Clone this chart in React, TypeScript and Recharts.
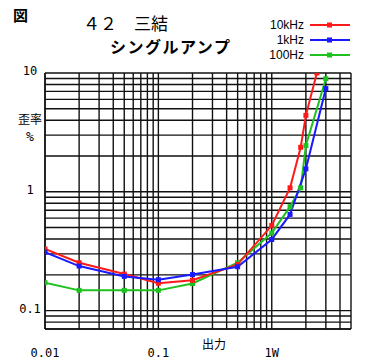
import React from "react";
import { LineChart, Line, XAxis, YAxis, CartesianGrid } from "recharts";

// 10kHz
const red = [
  { x: 0.01, y: 0.33 },
  { x: 0.02, y: 0.253 },
  { x: 0.05, y: 0.203 },
  { x: 0.1, y: 0.17 },
  { x: 0.2, y: 0.18 },
  { x: 0.5, y: 0.245 },
  { x: 1, y: 0.52 },
  { x: 1.45, y: 1.08 },
  { x: 1.8, y: 2.37 },
  { x: 2, y: 4.4 },
  { x: 2.5, y: 10 },
];

// 1kHz
const blue = [
  { x: 0.01, y: 0.31 },
  { x: 0.02, y: 0.237 },
  { x: 0.05, y: 0.194 },
  { x: 0.1, y: 0.182 },
  { x: 0.2, y: 0.201 },
  { x: 0.5, y: 0.234 },
  { x: 1, y: 0.397 },
  { x: 1.45, y: 0.645 },
  { x: 2, y: 1.56 },
  { x: 3, y: 7.4 },
];

// 100Hz
const green = [
  { x: 0.01, y: 0.172 },
  { x: 0.02, y: 0.148 },
  { x: 0.05, y: 0.148 },
  { x: 0.1, y: 0.148 },
  { x: 0.2, y: 0.169 },
  { x: 0.5, y: 0.253 },
  { x: 1, y: 0.45 },
  { x: 1.45, y: 0.75 },
  { x: 1.8, y: 1.08 },
  { x: 2, y: 2.45 },
  { x: 3, y: 8.95 },
];

const series = [
  { name: "10kHz", color: "#ff1a1a", data: red },
  { name: "1kHz", color: "#1a1aff", data: blue },
  { name: "100Hz", color: "#1ec21e", data: green },
];

const xTicks = [
  0.01, 0.02, 0.03, 0.04, 0.05, 0.06, 0.07, 0.08, 0.09,
  0.1, 0.2, 0.3, 0.4, 0.5, 0.6, 0.7, 0.8, 0.9,
  1, 2, 3, 4, 5,
];
const yTicks = [
  0.07, 0.08, 0.09,
  0.1, 0.2, 0.3, 0.4, 0.5, 0.6, 0.7, 0.8, 0.9,
  1, 2, 3, 4, 5, 6, 7, 8, 9, 10,
];
const xLabels: Record<string, string> = { "0.01": "0.01", "0.1": "0.1", "1": "1W" };
const yLabels: Record<string, string> = { "0.1": "0.1", "1": "1", "10": "10" };

const mono = "'DejaVu Sans Mono', monospace";
const jp = "'Noto Sans CJK JP', sans-serif";

const XTick = (props: any) => {
  const label = xLabels[String(props.payload.value)];
  if (!label) return null;
  return (
    <text x={props.x} y={props.y + 20} textAnchor="middle" fontSize={12} fontFamily={mono} fill="#000">
      {label}
    </text>
  );
};

const YTick = (props: any) => {
  const label = yLabels[String(props.payload.value)];
  if (!label) return null;
  return (
    <text x={30} y={props.y + 2} textAnchor="middle" fontSize={12} fontFamily={mono} fill="#000">
      {label}
    </text>
  );
};

const squareDot = (color: string) => (p: any) => (
  <rect key={p.index} x={p.cx - 2.5} y={p.cy - 2.5} width={5} height={5} fill={color} />
);

const LegendBox = () => (
  <div style={{ position: "absolute", left: 254, top: 17, fontFamily: "'Liberation Sans', Arial, sans-serif", fontSize: 12 }}>
    {series.map((s) => (
      <div key={s.name} style={{ display: "flex", alignItems: "center", height: 15 }}>
        <span style={{ width: 50, textAlign: "right", marginRight: 6 }}>{s.name}</span>
        <svg width={42} height={6}>
          <line x1={0} y1={3} x2={40} y2={3} stroke={s.color} strokeWidth={2} />
          <rect x={17} y={0.5} width={5} height={5} fill={s.color} />
        </svg>
      </div>
    ))}
  </div>
);

export default function App() {
  return (
    <div style={{ position: "absolute", left: 0, top: 0, width: 370, height: 360, background: "#fff" }}>
      <div style={{ position: "absolute", left: 13, top: 6, fontFamily: jp, fontSize: 15, fontWeight: 700, lineHeight: "18px" }}>
        図
      </div>
      <div style={{ position: "absolute", left: 83, top: 13, fontFamily: jp, fontSize: 17, lineHeight: "20px", whiteSpace: "nowrap" }}>
        ４２　三結
      </div>
      <div style={{ position: "absolute", left: 110, top: 36, fontFamily: jp, fontSize: 16, fontWeight: 700, lineHeight: "20px", letterSpacing: 1.5, whiteSpace: "nowrap" }}>
        シングルアンプ
      </div>
      <div style={{ position: "absolute", left: 17, top: 110, fontFamily: jp, fontSize: 12, lineHeight: "17px", textAlign: "center", width: 26 }}>
        歪率
        <br />
        <span style={{ fontFamily: mono, fontSize: 13 }}>%</span>
      </div>
      <div style={{ position: "absolute", left: 202, top: 336, fontFamily: jp, fontSize: 12, lineHeight: "16px" }}>
        出力
      </div>
      <LegendBox />
      <LineChart width={370} height={360} margin={{ top: 73, right: 19, left: 0, bottom: 0 }}>
        <CartesianGrid stroke="#111" strokeWidth={1.4} />
        <XAxis
          dataKey="x"
          type="number"
          scale="log"
          domain={[0.01, 5]}
          allowDataOverflow
          ticks={xTicks}
          interval={0}
          tick={<XTick />}
          tickLine={false}
          axisLine={{ stroke: "#111", strokeWidth: 1.4 }}
          height={31}
        />
        <YAxis
          type="number"
          scale="log"
          domain={[0.07, 10]}
          allowDataOverflow
          ticks={yTicks}
          interval={0}
          tick={<YTick />}
          tickLine={false}
          axisLine={{ stroke: "#111", strokeWidth: 1.4 }}
          width={45}
        />
        {[series[2], series[0], series[1]].map((s) => (
          <Line
            key={s.name}
            data={s.data}
            dataKey="y"
            name={s.name}
            stroke={s.color}
            strokeWidth={2}
            dot={squareDot(s.color)}
            isAnimationActive={false}
          />
        ))}
      </LineChart>
    </div>
  );
}
